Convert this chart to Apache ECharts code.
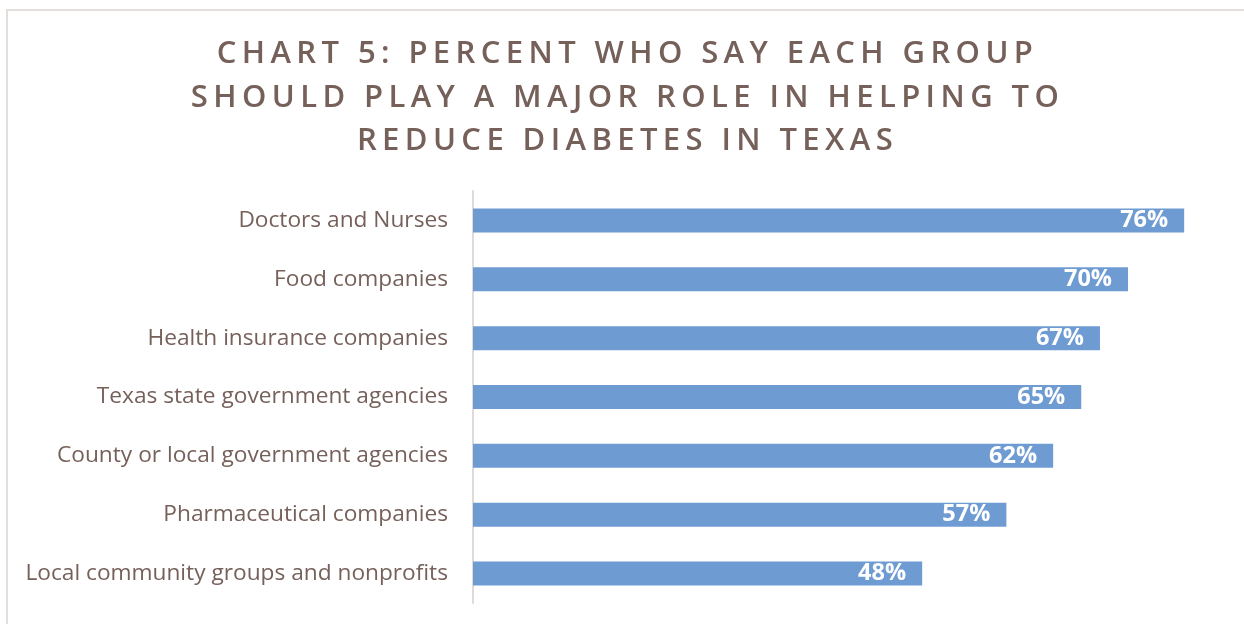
<!DOCTYPE html>
<html>
<head>
<meta charset="utf-8">
<title>Chart 5</title>
<script src="https://cdn.jsdelivr.net/npm/echarts@6/dist/echarts.min.js"></script>
<style>
  html, body { margin: 0; padding: 0; background: #ffffff; }
  #wrap { position: relative; width: 1244px; height: 624px; overflow: hidden; }
  #frame {
    position: absolute; left: 6px; top: 9px; width: 1300px; height: 700px;
    border-left: 2px solid #e4dedc; border-top: 2px solid #e4dedc;
  }
  #chart { position: absolute; left: 0; top: 0; width: 1244px; height: 624px; }
  #title {
    position: absolute; left: 0; top: 30px; width: 1244px;
    text-align: center; padding-left: 11px; box-sizing: border-box;
    font-family: "Open Sans", "Noto Sans", sans-serif; font-weight: 600;
    font-size: 31px; line-height: 43.5px; letter-spacing: 5.4px;
    color: #76605a; pointer-events: none; white-space: nowrap;
  }
</style>
</head>
<body>
<div id="wrap">
  <div id="frame"></div>
  <div id="chart"></div>
  <div id="title">CHART 5: PERCENT WHO SAY EACH GROUP<br>SHOULD PLAY A MAJOR ROLE IN HELPING TO<br>REDUCE DIABETES IN TEXAS</div>
</div>
<script>
// Groups, top to bottom, and the share who say each should play a major role
const groups = [
  'Doctors and Nurses',
  'Food companies',
  'Health insurance companies',
  'Texas state government agencies',
  'County or local government agencies',
  'Pharmaceutical companies',
  'Local community groups and nonprofits'
];
const percents = [76, 70, 67, 65, 62, 57, 48];

const textColor = '#76605a';
const barColor = '#6f9bd3';

const chart = echarts.init(document.getElementById('chart'), null, { renderer: 'canvas' });
chart.setOption({
  animation: false,
  grid: { left: 473, right: 22.4, top: 191, bottom: 21, containLabel: false },
  xAxis: {
    type: 'value', min: 0, max: 80,
    show: false
  },
  yAxis: {
    type: 'category',
    data: groups,
    inverse: true,
    axisLine: { show: true, lineStyle: { color: '#e0dad8', width: 2 } },
    axisTick: { show: false },
    splitLine: { show: false },
    axisLabel: {
      margin: 25,
      color: textColor,
      fontFamily: '"Open Sans", "Noto Sans", sans-serif',
      fontSize: 22.7
    }
  },
  series: [{
    type: 'bar',
    data: percents,
    barWidth: 24,
    itemStyle: { color: barColor },
    label: {
      show: true,
      position: 'insideRight',
      distance: 16,
      formatter: p => p.value + '%',
      color: '#ffffff',
      fontWeight: 'bold',
      fontFamily: '"Open Sans", "Noto Sans", sans-serif',
      fontSize: 23.5
    }
  }]
});
</script>
</body>
</html>
